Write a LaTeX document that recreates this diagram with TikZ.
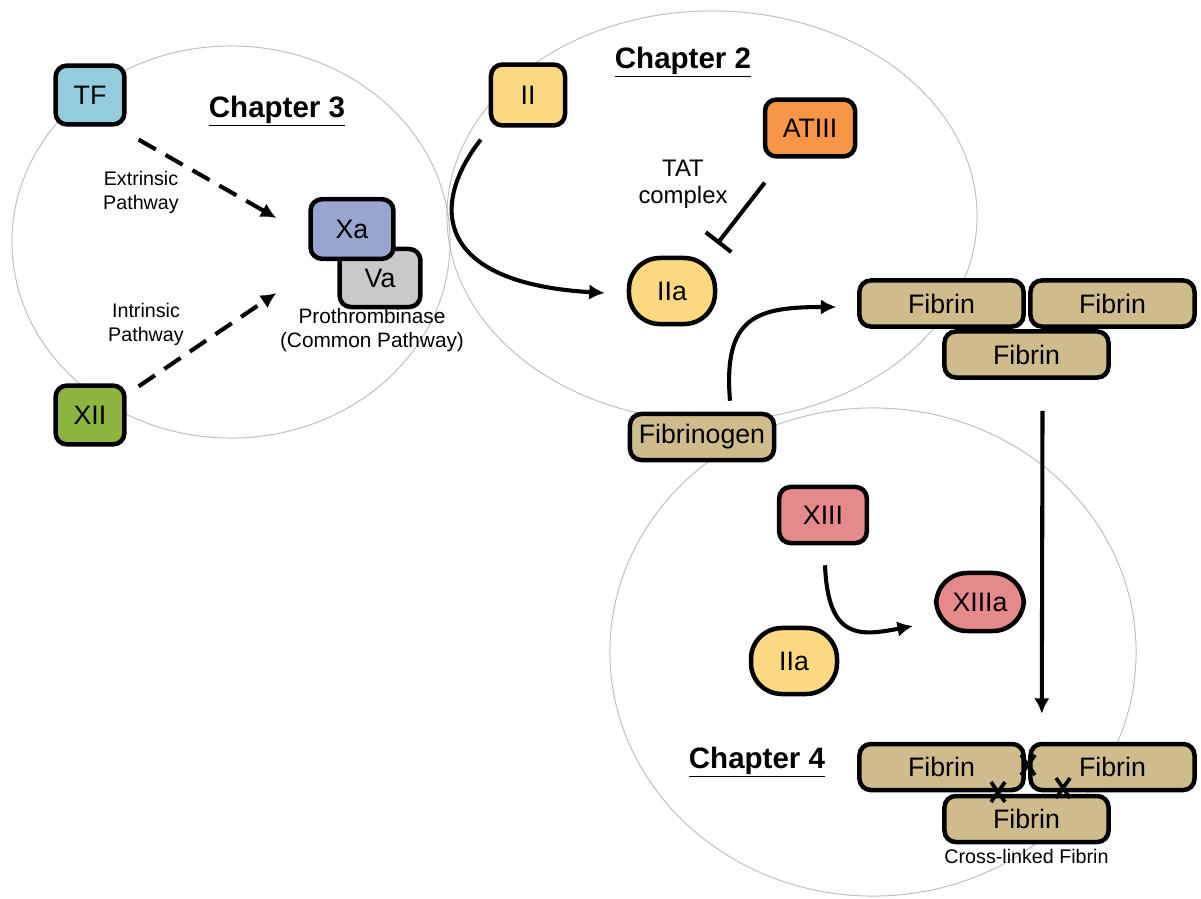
\documentclass[tikz,border=0pt]{standalone}
\usepackage{fontspec}
\setmainfont{Liberation Sans}
\usetikzlibrary{positioning,arrows.meta}

\definecolor{tfblue}{HTML}{93CDDD}
\definecolor{xiigreen}{HTML}{8DB43E}
\definecolor{xablue}{HTML}{97A5CF}
\definecolor{vagray}{HTML}{C9C9C9}
\definecolor{thrombin}{HTML}{FCD981}
\definecolor{atorange}{HTML}{F79646}
\definecolor{xiiired}{HTML}{E6898A}
\definecolor{fibrintan}{HTML}{CEBC8D}

\begin{document}
\begin{tikzpicture}[
        x=0.025cm, y=-0.025cm,
        factor/.style={draw, line width=3.2pt, rounded corners=8pt, inner sep=0pt, font=\fontsize{19}{22}\selectfont},
        active/.style={factor, rounded corners=22pt},
        fibrin/.style={factor, fill=fibrintan, minimum width=4.1cm, minimum height=1.15cm},
        chapter/.style={font=\fontsize{21}{25}\selectfont\bfseries},
        note/.style={align=center, font=\fontsize{14}{17}\selectfont},
        region/.style={draw=gray!50, line width=0.7pt},
        solidline/.style={-{Latex[length=11pt,width=11pt]}, line width=2.9pt},
        dashedline/.style={solidline, dash pattern=on 14pt off 8pt},
        inhibit/.style={-{Bar[width=23pt]}, line width=2.9pt},
        crosslink/.style={line width=2.6pt}
    ]

    \fill[white] (0,0) rectangle (1201,899);
    \path[use as bounding box] (0,0) rectangle (1201,899);

    % Chapter regions
    \draw[region] (231,242) ellipse [x radius=5.475cm, y radius=4.9cm];
    \draw[region] (712,216) ellipse [x radius=6.625cm, y radius=5.125cm];
    \draw[region] (873,652) ellipse [x radius=6.575cm, y radius=6.1cm];

    % Chapter 3 (left)
    \node[factor, fill=tfblue, minimum width=1.72cm, minimum height=1.47cm] (tf) at (90,95) {TF};
    \node[factor, fill=xiigreen, minimum width=1.72cm, minimum height=1.47cm] (xii) at (90,415) {XII};
    \node[factor, fill=vagray, minimum width=2.02cm, minimum height=1.45cm] (va) at (380,278) {Va};
    \node[factor, fill=xablue, minimum width=2.07cm, minimum height=1.49cm] (xa) at (352,229) {Xa};
    \node[chapter] (ch3) at (277,111) {\underline{Chapter 3}};
    \node[note] (extlabel) at (141,192) {Extrinsic\\Pathway};
    \node[note] (intlabel) at (146,324) {Intrinsic\\Pathway};
    \node[note, font=\fontsize{14.8}{17}\selectfont] (prolabel) at (372,330) {Prothrombinase\\(Common Pathway)};

    \draw[dashedline] ([shift={(12,13)}]tf.south east) -- ([shift={(-32,-11)}]xa.west);
    \draw[dashedline] ([shift={(12,3)}]xii.north east) -- ([shift={(-32,64)}]xa.west);

    % Chapter 2 (top)
    \node[factor, fill=thrombin, minimum width=1.85cm, minimum height=1.52cm] (ii) at (528,95) {II};
    \node[factor, fill=atorange, minimum width=2.25cm, minimum height=1.42cm] (atiii) at (810,128) {ATIII};
    \node[active, fill=thrombin, minimum width=2.15cm, minimum height=1.65cm] (iia) at (672,291) {IIa};
    \node[chapter] (ch2) at (683,62) {\underline{Chapter 2}};
    \node[note, font=\fontsize{17}{19}\selectfont] (tatlabel) at (683,184) {TAT\\complex};

    \draw[solidline] ([shift={(-8,12)}]ii.south west) .. controls +(-51,65) and +(-171,-10) .. ([shift={(-22,2)}]iia.west);
    \draw[inhibit] ([shift={(2,24)}]atiii.south west) -- ([shift={(0,-12)}]iia.north east);

    % Fibrin formation
    \node[factor, fill=fibrintan, minimum width=3.6cm, minimum height=1.15cm] (fibrinogen) at (702,437) {Fibrinogen};
    \node[fibrin] (f1) at (941.5,303.5) {Fibrin};
    \node[fibrin] (f2) at (1112.5,303.5) {Fibrin};
    \node[fibrin] (f3) at (1026.5,354.5) {Fibrin};

    \draw[solidline] ([shift={(28,-11)}]fibrinogen.north) .. controls +(-7,-84) and +(-80,0) .. ([shift={(-21,3.5)}]f1.west);

    % Chapter 4 (bottom)
    \node[factor, fill=xiiired, minimum width=2.19cm, minimum height=1.4cm] (xiii) at (823,515) {XIII};
    \node[active, fill=xiiired, minimum width=2.19cm, minimum height=1.45cm] (xiiia) at (980,602) {XIIIa};
    \node[active, fill=thrombin, minimum width=2.15cm, minimum height=1.65cm] (iia2) at (794,661) {IIa};
    \node[chapter] (ch4) at (757,762) {\underline{Chapter 4}};
    \node[fibrin] (f4) at (941.5,767) {Fibrin};
    \node[fibrin] (f5) at (1112.5,767) {Fibrin};
    \node[fibrin] (f6) at (1026.5,819) {Fibrin};
    \node[note, below=0pt of f6] (xlabel) {Cross-linked Fibrin};

    \draw[solidline] ([shift={(2,20)}]xiii.south) .. controls +(3,75) and +(-53,10) .. ([shift={(-21,24)}]xiiia.west);
    \draw[solidline] ([shift={(16,31)}]f3.south) -- ([shift={(16,-28)}]f4.north east);

    % Cross-links
    \foreach \cx/\cy in {1028/765, 998/792, 1063/788} {
            \draw[crosslink] (\cx-7,\cy-10) -- (\cx+7,\cy+10) (\cx-7,\cy+10) -- (\cx+7,\cy-10);
        }

\end{tikzpicture}
\end{document}
